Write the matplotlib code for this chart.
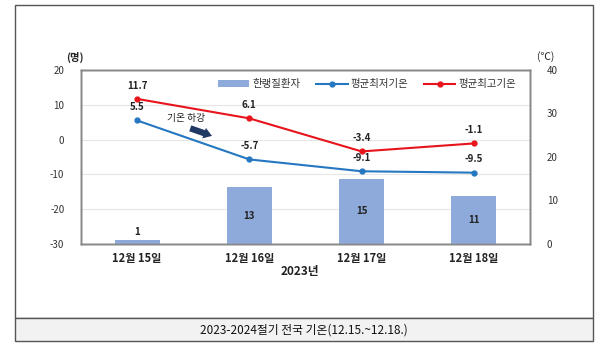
import matplotlib
matplotlib.use("Agg")
import matplotlib.pyplot as plt
from matplotlib.patches import Rectangle

plt.rcParams['font.family'] = ['Noto Sans CJK KR', 'DejaVu Sans']
plt.rcParams['axes.unicode_minus'] = False

categories = ['12월 15일', '12월 16일', '12월 17일', '12월 18일']
patients = [1, 13, 15, 11]
min_temp = [5.5, -5.7, -9.1, -9.5]
max_temp = [11.7, 6.1, -3.4, -1.1]
left_ticks = [-30, -20, -10, 0, 10, 20]
right_ticks = [0, 10, 20, 30, 40]

bar_color = '#8eaadb'
blue = '#2477c0'
red = '#e8141c'

fig = plt.figure(figsize=(6.0, 3.53), dpi=100)
fig.patch.set_facecolor('white')

# outer frames
fig.patches.append(Rectangle((15/600, 1-318/353), 578/600, 313/353, transform=fig.transFigure,
                             fill=False, edgecolor='#555555', linewidth=1.0))
fig.patches.append(Rectangle((15/600, 1-341/353), 578/600, 23/353, transform=fig.transFigure,
                             facecolor='#f2f2f2', edgecolor='#555555', linewidth=1.0))
fig.text(304/600, 1-330/353, '2023-2024절기 전국 기온(12.15.~12.18.)', ha='center', va='center',
         fontsize=8.5, color='#111111')

rect = [81/600, 1-244/353, 449/600, 174/353]
ax = fig.add_axes(rect)           # left axis + grid (bottom layer)
ax2 = ax.twinx()                  # bars + right axis
ax3 = ax.twinx()                  # lines, sharing left scale
ax.set_zorder(0)
ax2.set_zorder(1)
ax3.set_zorder(2)
ax2.patch.set_visible(False)
ax3.patch.set_visible(False)

x = list(range(len(categories)))
ax.set_ylim(-30, 20)
ax.set_yticks(left_ticks)
ax.set_xlim(-0.5, 3.5)
ax.set_xticks(x)
ax.set_xticklabels(categories, fontsize=8, fontweight='bold', color='#222222')
ax.grid(axis='y', color='#e6e6e6', linewidth=0.8)
ax.set_axisbelow(True)
ax.tick_params(axis='y', length=0, labelsize=7, colors='#333333', pad=12)
ax.tick_params(axis='x', length=0, pad=6)

bars = ax2.bar(x, patients, width=0.4, color=bar_color, label='한랭질환자', zorder=2)
ax2.set_ylim(0, 40)
ax2.set_yticks(right_ticks)
ax2.tick_params(axis='y', length=0, labelsize=7, colors='#333333', pad=12)
for xi, v in zip(x, patients):
    if v > 3:
        ax2.text(xi, v / 2, str(v), ha='center', va='center', fontsize=7, fontweight='bold', color='#222222')
    else:
        ax2.text(xi, v + 0.6, str(v), ha='center', va='bottom', fontsize=7, fontweight='bold', color='#222222')

ax3.set_ylim(-30, 20)
ax3.set_yticks([])
l1, = ax3.plot(x, min_temp, color=blue, marker='o', markersize=3.5, linewidth=1.5, label='평균최저기온', zorder=3)
l2, = ax3.plot(x, max_temp, color=red, marker='o', markersize=3.5, linewidth=1.5, label='평균최고기온', zorder=3)
for xi, v in zip(x, min_temp):
    ax3.annotate(f'{v}', (xi, v), xytext=(0, 6), textcoords='offset points', ha='center', va='bottom',
                 fontsize=7, fontweight='bold', color='#222222')
for xi, v in zip(x, max_temp):
    ax3.annotate(f'{v}', (xi, v), xytext=(0, 6), textcoords='offset points', ha='center', va='bottom',
                 fontsize=7, fontweight='bold', color='#222222')

for a in (ax, ax2, ax3):
    for s in a.spines.values():
        s.set_color('#888888')
        s.set_linewidth(1.0)

ax3.text(0.44, 6.1, '기온 하강', ha='center', va='center', fontsize=7, color='#222222')
ax3.annotate('', xy=(0.69, 0.8), xytext=(0.45, 3.5),
             arrowprops=dict(arrowstyle='simple,head_width=0.8,head_length=0.6,tail_width=0.45',
                             color='#1f3864', lw=0))

fig.text(75/600, 1-57/353, '(명)', ha='center', va='center', fontsize=7.5, fontweight='bold', color='#222222')
fig.text(546/600, 1-57/353, '(℃)', ha='center', va='center', fontsize=7.5, color='#222222')
fig.text(300/600, 1-272/353, '2023년', ha='center', va='center', fontsize=8.5, fontweight='bold', color='#222222')

ax3.legend([bars, l1, l2], ['한랭질환자', '평균최저기온', '평균최고기온'], loc='upper right',
           bbox_to_anchor=(0.99, 1.0), ncol=3, frameon=False, fontsize=7.5, handlelength=3.0,
           columnspacing=1.5, handletextpad=0.3, labelcolor='#333333')

fig.savefig('out.png', dpi=100)
